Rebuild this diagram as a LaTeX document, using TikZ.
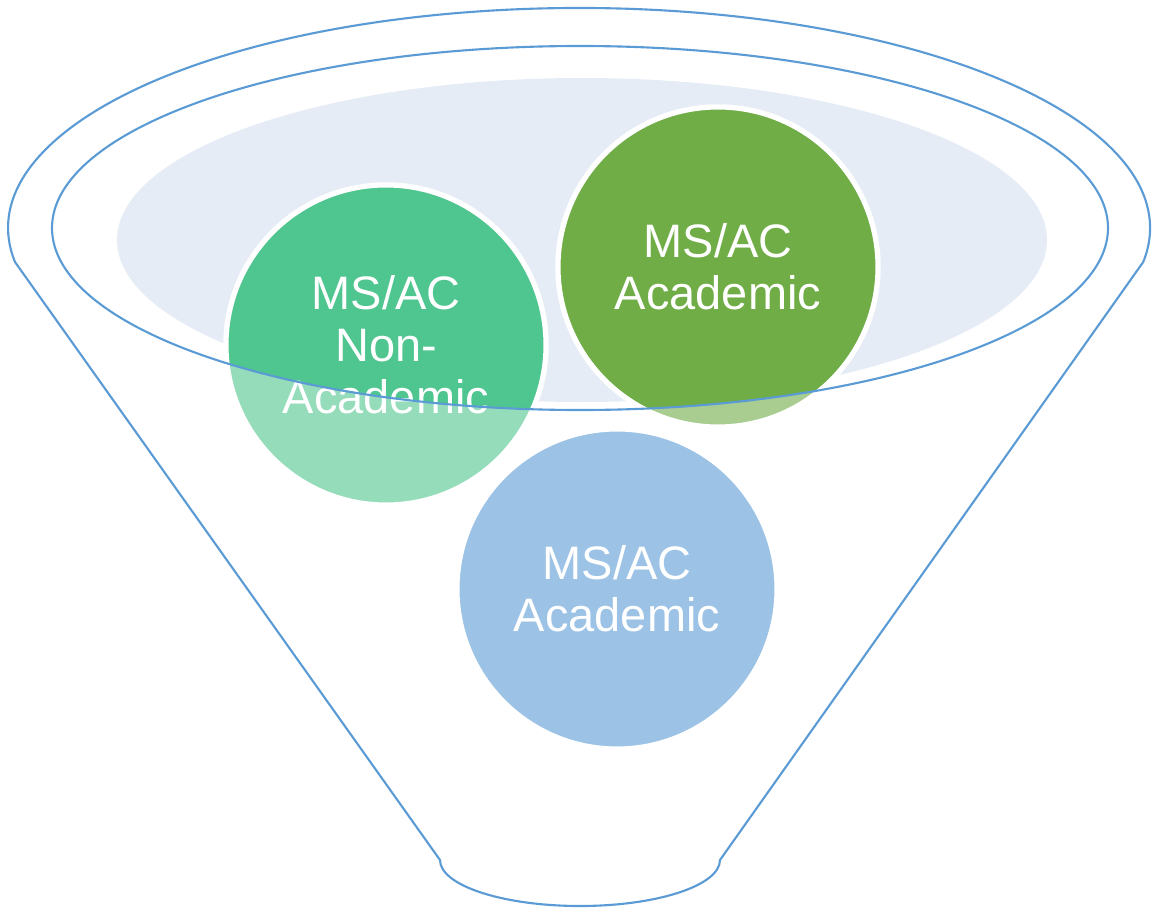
\documentclass[tikz,border=0pt]{standalone}
\usepackage{fontspec}
\setmainfont{Liberation Sans}
\usepackage{xcolor}
\definecolor{funnelline}{RGB}{91,155,213}
\definecolor{funnelfill}{RGB}{229,236,246}
\definecolor{nonacadgreen}{RGB}{79,197,143}
\definecolor{acadgreen}{RGB}{112,173,71}
\definecolor{acadblue}{RGB}{91,155,213}
\usepackage{tikz}
\usetikzlibrary{positioning}

\begin{document}
\begin{tikzpicture}[x=0.01cm,y=0.01cm,
	every node/.style={inner sep=1,outer sep=0,font=\fontsize{13.35}{14.8}\selectfont},
	ball/.style={circle,minimum size=3.2cm,draw=white,line width=1.5pt,text=white,align=center},
	rim/.style={draw=funnelline,line width=0.6pt}]
	\useasboundingbox (0,0) rectangle (1154,908);
	\fill[funnelfill] (582,668) ellipse [x radius=465,y radius=162];
	\node (nonacad) [ball,fill=nonacadgreen] at (386,563) {MS/AC\\Non-\\Academic};
	\node (acad) [ball,fill=acadgreen] at (718,641) {MS/AC\\Academic};
	\node (acadlow) [ball,fill=acadblue] at (617,319) {MS/AC\\Academic};
	\fill[white,fill opacity=0.4,even odd rule]
		(0,0) rectangle (1154,908)
		(580,680) ellipse [x radius=528,y radius=182];
	\draw[rim] (580,680) ellipse [x radius=528,y radius=182];
	\draw[rim] (15,646) arc [start angle=188.9,end angle=-8.9,x radius=571,y radius=220]
		-- (720,48) arc [start angle=0,end angle=-180,x radius=140,y radius=46] -- cycle;
\end{tikzpicture}
\end{document}
